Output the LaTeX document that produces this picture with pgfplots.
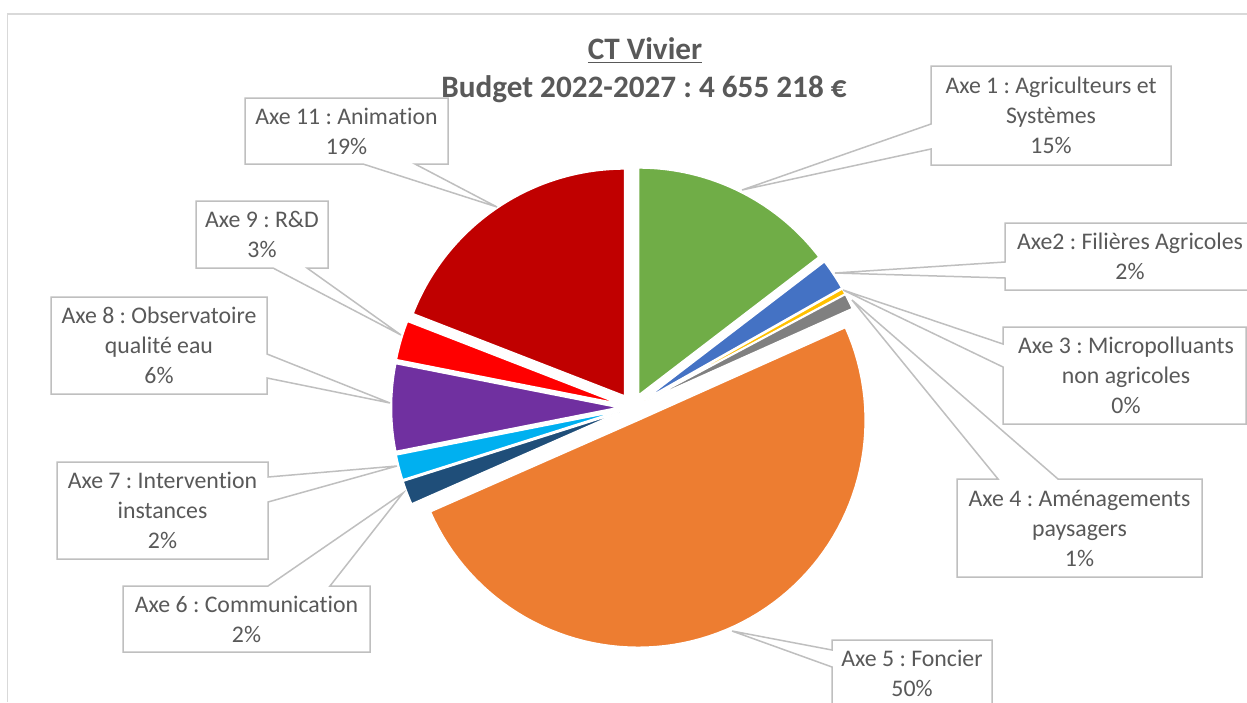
\documentclass[border=0pt]{standalone}
\usepackage{fontspec}
\setmainfont{Carlito}[Ligatures={NoCommon}]
\usepackage{pgfplots}
\pgfplotsset{compat=1.18}
\frenchspacing

\definecolor{txt}{HTML}{595959}
\definecolor{frame}{HTML}{D9D9D9}
\definecolor{callout}{HTML}{BFBFBF}
\definecolor{c1}{HTML}{70AD47}
\definecolor{c2}{HTML}{4472C4}
\definecolor{c3}{HTML}{FFC000}
\definecolor{c4}{HTML}{808080}
\definecolor{c5}{HTML}{ED7D31}
\definecolor{c6}{HTML}{1F4E79}
\definecolor{c7}{HTML}{00B0F0}
\definecolor{c8}{HTML}{7030A0}
\definecolor{c9}{HTML}{FF0000}
\definecolor{c11}{HTML}{C00000}

% pie geometry in picture pixels (y downwards)
\def\cx{632.5}\def\cy{407.5}\def\R{227}\def\ex{14}
\gdef\cum{0}

% one exploded slice: share in percent, colour
\newcommand\pieslice[2]{%
  \pgfmathsetmacro\tA{\cum*3.6}%
  \pgfmathsetmacro\tB{(\cum+#1)*3.6}%
  \pgfmathsetmacro\tM{(\cum+#1/2)*3.6}%
  \pgfmathsetmacro\px{\cx+\ex*sin(\tM)}%
  \pgfmathsetmacro\py{\cy-\ex*cos(\tM)}%
  \edef\temp{\noexpand\addplot[draw=white, line width=0.75pt, fill=#2,
    domain=\tA:\tB, samples=80]
    ({\px+\R*sin(x)},{\py-\R*cos(x)}) -- (axis cs:\px,\py) -- cycle;}%
  \temp
  \pgfmathparse{\cum+#1}\xdef\cum{\pgfmathresult}%
}

\tikzset{lbl/.style={align=center, text=txt, font=\fontsize{11.9}{15}\selectfont\frenchspacing, inner sep=0pt}}

\begin{document}
\begin{tikzpicture}
\begin{axis}[
  at={(0,0)}, anchor=south west,
  width=623.5pt, height=351pt, scale only axis,
  xmin=0, xmax=1247, ymin=0, ymax=702, y dir=reverse,
  axis lines=none, clip=false]

% chart frame (partly cropped)
\draw[frame, line width=0.75pt] (axis cs:7.5,702) -- (axis cs:7.5,14) -- (axis cs:1247,14);

% shares in percent
\pieslice{14.6}{c1}  % Axe 1
\pieslice{2.2}{c2}   % Axe 2
\pieslice{0.4}{c3}   % Axe 3
\pieslice{1.1}{c4}   % Axe 4
\pieslice{50.1}{c5}  % Axe 5
\pieslice{1.7}{c6}   % Axe 6
\pieslice{1.8}{c7}   % Axe 7
\pieslice{6.2}{c8}   % Axe 8
\pieslice{2.8}{c9}   % Axe 9
\pieslice{19.1}{c11} % Axe 11

% title
\node[anchor=base, text=txt, font=\fontsize{15.6}{18}\selectfont\bfseries\frenchspacing] at (axis cs:645,59) {\underline{CT Vivier}};
\node[anchor=base, text=txt, font=\fontsize{15.6}{18}\selectfont\bfseries\frenchspacing] at (axis cs:644,97) {Budget 2022-2027 : 4 655 218 €};

% callouts
\begin{scope}[callout, line width=0.75pt]
\filldraw[fill=white] (axis cs:931,66) -- (axis cs:1171,66) -- (axis cs:1171,165) -- (axis cs:931,165) -- (axis cs:931,149) -- (axis cs:742,190) -- (axis cs:931,124) -- cycle;
\filldraw[fill=white] (axis cs:1005,223) -- (axis cs:1255,223) -- (axis cs:1255,290) -- (axis cs:1005,290) -- (axis cs:1005,278) -- (axis cs:835,273) -- (axis cs:1005,262) -- cycle;
\filldraw[fill=white] (axis cs:1003,327) -- (axis cs:1246,327) -- (axis cs:1246,424) -- (axis cs:1003,424) -- (axis cs:1003,367) -- (axis cs:843,290) -- (axis cs:1003,344) -- cycle;
\filldraw[fill=white] (axis cs:957,479) -- (axis cs:998,479) -- (axis cs:852,300) -- (axis cs:1058,479) -- (axis cs:1202,479) -- (axis cs:1202,577) -- (axis cs:957,577) -- cycle;
\filldraw[fill=white] (axis cs:832,640) -- (axis cs:992,640) -- (axis cs:992,720) -- (axis cs:832,720) -- (axis cs:832,667) -- (axis cs:732,631) -- (axis cs:832,650) -- cycle;
\filldraw[fill=white] (axis cs:123,586) -- (axis cs:268,586) -- (axis cs:403,493) -- (axis cs:330,586) -- (axis cs:370,586) -- (axis cs:370,652) -- (axis cs:123,652) -- cycle;
\filldraw[fill=white] (axis cs:57,462) -- (axis cs:268,462) -- (axis cs:268,477) -- (axis cs:397,466) -- (axis cs:268,502) -- (axis cs:268,559) -- (axis cs:57,559) -- cycle;
\filldraw[fill=white] (axis cs:51,297) -- (axis cs:267,297) -- (axis cs:267,354) -- (axis cs:390,403) -- (axis cs:267,378) -- (axis cs:267,394) -- (axis cs:51,394) -- cycle;
\filldraw[fill=white] (axis cs:196,201) -- (axis cs:328,201) -- (axis cs:328,268) -- (axis cs:307,268) -- (axis cs:401,335) -- (axis cs:273,268) -- (axis cs:196,268) -- cycle;
\filldraw[fill=white] (axis cs:245,98) -- (axis cs:448,98) -- (axis cs:448,164) -- (axis cs:415,164) -- (axis cs:497,207) -- (axis cs:363,164) -- (axis cs:245,164) -- cycle;
\end{scope}

\node[lbl] at (axis cs:1051,115.5) {Axe 1 : Agriculteurs et\\Systèmes\\15\%};
\node[lbl] at (axis cs:1130,256.5) {Axe2 : Filières Agricoles\\2\%};
\node[lbl] at (axis cs:1126,375.5) {Axe 3 : Micropolluants\\non agricoles\\0\%};
\node[lbl] at (axis cs:1079.5,528) {Axe 4 : Aménagements\\paysagers\\1\%};
\node[lbl] at (axis cs:912,673) {Axe 5 : Foncier\\50\%};
\node[lbl] at (axis cs:246.5,619) {Axe 6 : Communication\\2\%};
\node[lbl] at (axis cs:162.5,510.5) {Axe 7 : Intervention\\instances\\2\%};
\node[lbl] at (axis cs:159,345.5) {Axe 8 : Observatoire\\qualité eau\\6\%};
\node[lbl] at (axis cs:262,234.5) {Axe 9 : R\&D\\3\%};
\node[lbl] at (axis cs:346.5,131) {Axe 11 : Animation\\19\%};
\end{axis}
\pgfresetboundingbox
\path[use as bounding box] (0,0) rectangle (623.5pt,351pt);
\end{tikzpicture}
\end{document}
